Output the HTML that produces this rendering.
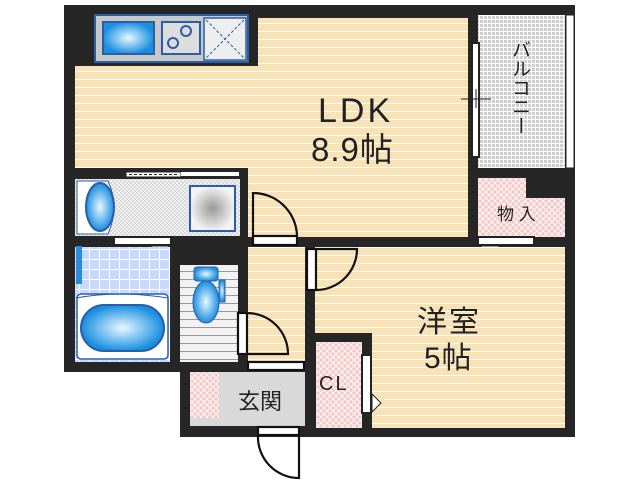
<!DOCTYPE html>
<html><head><meta charset="utf-8"><style>
html,body{margin:0;padding:0;background:#fff;width:640px;height:480px;overflow:hidden;position:relative}
text{font-family:"Liberation Sans","Noto Sans CJK JP",sans-serif;fill:#222}
.v{position:absolute;left:511px;top:40px;writing-mode:vertical-rl;font-family:"Noto Sans CJK JP",sans-serif;font-size:19px;color:#222;line-height:20px}
</style></head><body>
<svg width="640" height="480" viewBox="0 0 640 480" xmlns="http://www.w3.org/2000/svg" style="position:absolute;left:0;top:0">
<defs>
<pattern id="fl" width="8" height="8" patternUnits="userSpaceOnUse"><rect width="8" height="8" fill="#f7e3b6"/><rect y="7" width="8" height="1" fill="#fff"/></pattern>
<pattern id="gr" width="4" height="4" patternUnits="userSpaceOnUse"><rect width="4" height="4" fill="#fff"/><rect width="3" height="3" fill="#cfcfcf"/></pattern>
<pattern id="ck" width="4" height="4" patternUnits="userSpaceOnUse"><rect width="4" height="4" fill="#f2f2f2"/><rect width="2" height="2" fill="#d8d8d8"/><rect x="2" y="2" width="2" height="2" fill="#d8d8d8"/></pattern>
<pattern id="pk" width="6" height="6" patternUnits="userSpaceOnUse"><rect width="6" height="6" fill="#f6c9c9"/><path d="M0 0L6 6M6 0L0 6" stroke="#fff" stroke-width="0.8"/></pattern>
<pattern id="tl" width="10" height="10" patternUnits="userSpaceOnUse"><rect width="10" height="10" fill="#fff"/><rect width="9" height="9" fill="#c7dafb"/></pattern>
<pattern id="ts" width="8" height="8" patternUnits="userSpaceOnUse"><rect width="8" height="8" fill="#f2f2f2"/><rect y="7" width="8" height="1" fill="#999"/></pattern>
<radialGradient id="bl"><stop offset="0" stop-color="#e8f8ff"/><stop offset="1" stop-color="#1a8fe0"/></radialGradient>
<radialGradient id="gy"><stop offset="0" stop-color="#999"/><stop offset="1" stop-color="#f4f4f4"/></radialGradient>
</defs>
<rect x="64" y="5" width="511" height="367" fill="#262626"/>
<rect x="180" y="360" width="395" height="77" fill="#262626"/>
<rect x="575" y="5" width="65" height="170" fill="#fff"/>
<rect x="258" y="18" width="210" height="219" fill="url(#fl)"/>
<rect x="75" y="66" width="393" height="102" fill="url(#fl)"/>
<rect x="248" y="168" width="220" height="69" fill="url(#fl)"/>
<rect x="95" y="15" width="153" height="47" fill="#c8c8c8" stroke="#2a5ea8" stroke-width="2"/>
<rect x="103" y="22" width="51" height="32" fill="url(#bl)" stroke="#2a5ea8" stroke-width="2"/>
<rect x="162" y="22" width="38" height="32" fill="#ddd" stroke="#2a5ea8" stroke-width="2"/>
<circle cx="173" cy="43" r="5" fill="none" stroke="#2a5ea8" stroke-width="2"/><circle cx="186" cy="31" r="5" fill="none" stroke="#2a5ea8" stroke-width="2"/>
<rect x="204" y="18" width="42" height="42" fill="#eee" stroke="#2a5ea8" stroke-width="1.5"/>
<path d="M206 20L244 58M244 20L206 58" stroke="#2a5ea8" stroke-dasharray="3 2"/>
<rect x="478" y="15" width="87" height="153" fill="url(#gr)"/>
<rect x="566" y="15" width="8" height="153" fill="#fff" stroke="#222"/>
<rect x="472" y="43" width="7" height="114" fill="#fff" stroke="#222" stroke-width="2"/>
<path d="M461 99H491M476 89V108" stroke="#222"/>
<path d="M478 178H526V198H565V237H478Z" fill="url(#pk)"/>
<text x="497" y="220" font-size="17">物 入</text>
<rect x="478" y="237" width="56" height="8" fill="#fff" stroke="#222" stroke-width="2"/>
<path d="M480 246L490 254L500 246Z" fill="#fff" stroke="#222"/>
<rect x="75" y="179" width="165" height="57" fill="url(#ck)"/>
<path d="M77 181H108Q120 207 108 234H77Z" fill="#fff" stroke="#2a5ea8"/>
<ellipse cx="100" cy="207" rx="14" ry="24" fill="url(#bl)" stroke="#2a5ea8" stroke-width="2"/>
<rect x="190" y="186" width="45" height="45" fill="url(#gy)" stroke="#2a5ea8" stroke-width="2"/>
<rect x="126" y="172" width="55" height="5" fill="#fff" stroke="#222"/>
<path d="M129 174.5H179" stroke="#222" stroke-dasharray="3 2"/>
<rect x="181" y="172" width="58" height="4" fill="#fff"/>
<rect x="114" y="237" width="57" height="8" fill="#fff" stroke="#222" stroke-width="2"/>
<path d="M150 246L160 254L170 246Z" fill="#fff" stroke="#222"/>
<rect x="75" y="247" width="95" height="115" fill="url(#tl)"/>
<rect x="77" y="294" width="91" height="65" rx="4" fill="#fff" stroke="#2a5ea8" stroke-width="1.5"/>
<rect x="81" y="305" width="83" height="46" rx="23" fill="url(#bl)" stroke="#2a5ea8" stroke-width="2"/>
<rect x="76" y="246" width="6" height="38" fill="#2a8ae0"/>
<path d="M76 298Q120 290 168 298" fill="none" stroke="#2a5ea8"/>
<rect x="180" y="265" width="58" height="97" fill="url(#ts)"/>
<rect x="194" y="267" width="24" height="14" rx="3" fill="url(#bl)" stroke="#2a5ea8"/>
<ellipse cx="206" cy="302" rx="13" ry="21" fill="url(#bl)" stroke="#2a5ea8"/>
<rect x="219" y="280" width="6" height="22" fill="url(#bl)" stroke="#2a5ea8"/>
<rect x="248" y="247" width="57" height="115" fill="url(#fl)"/>
<rect x="315" y="247" width="250" height="181" fill="url(#fl)"/>
<rect x="305" y="333" width="67" height="97" fill="#262626"/>
<rect x="316" y="342" width="46" height="86" fill="url(#pk)"/>
<text x="319" y="390" font-size="20" letter-spacing="2">CL</text>
<rect x="362" y="355" width="9" height="58" fill="#fff" stroke="#222" stroke-width="2"/>
<path d="M372 394L381 403L372 412Z" fill="#fff" stroke="#222"/>
<text x="417" y="332" font-size="30" letter-spacing="2">洋室</text>
<text x="424" y="368" font-size="30" letter-spacing="1">5帖</text>
<text x="318" y="122" font-size="34" letter-spacing="3">LDK</text>
<text x="311" y="161" font-size="33" letter-spacing="1">8.9帖</text>
<rect x="190" y="372" width="115" height="54" fill="#d9d9d9"/>
<rect x="190" y="372" width="29" height="46" fill="url(#pk)"/>
<text x="238" y="409" font-size="22">玄関</text>
<g fill="none" stroke="#111" stroke-width="2.2">
<rect x="253" y="236" width="44" height="9" fill="#fff"/><path d="M253 236V193A44 44 0 0 1 297 236"/>
<rect x="307" y="249" width="9" height="41" fill="#fff"/><path d="M316 249H357A41 41 0 0 1 316 290"/>
<rect x="238" y="313" width="9" height="41" fill="#fff"/><path d="M247 313A41 41 0 0 1 288 354H247"/>
<rect x="248" y="362" width="56" height="8" fill="#fff"/>
<rect x="258" y="427" width="41" height="8" fill="#fff"/><path d="M299 435V478A41 41 0 0 1 258 435"/>
</g>
</svg>
<div class="v">バルコニー</div>
</body></html>
